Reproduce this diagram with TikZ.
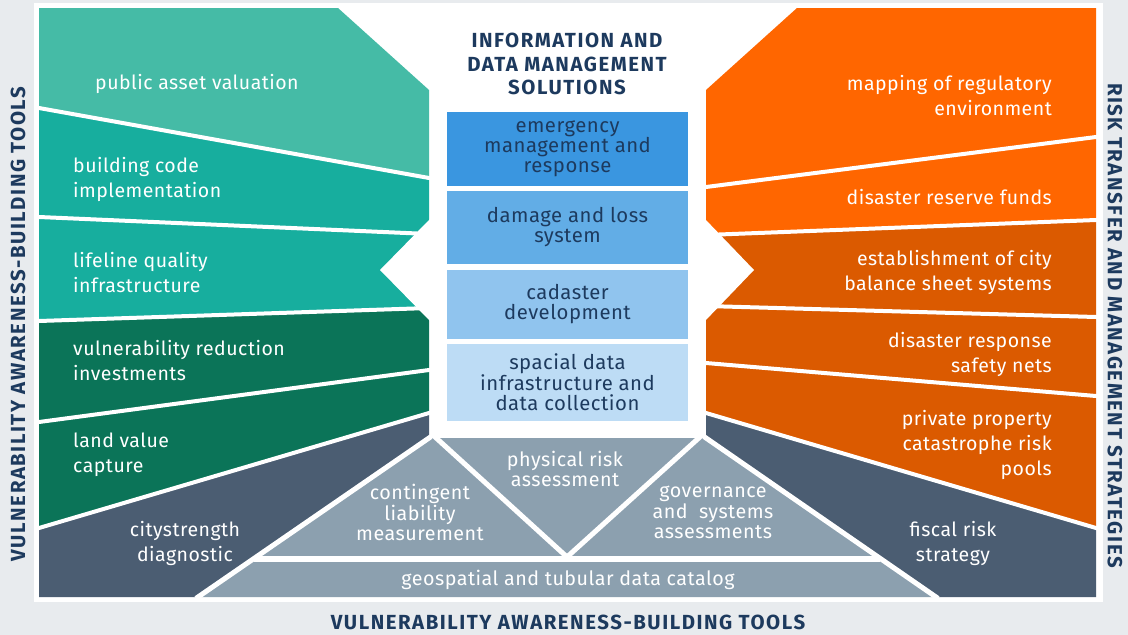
\documentclass[tikz,border=0pt]{standalone}
\usepackage{fontspec}
\setmainfont{Fira Sans}
\newfontfamily\bodyfont{Fira Sans}[LetterSpace=2.5]
\newfontfamily\titlefont{Fira Sans}[LetterSpace=7.5]
\definecolor{pagegray}{HTML}{E8EBEE}
\definecolor{tealpale}{HTML}{45BBA6}
\definecolor{tealmid}{HTML}{17AE9E}
\definecolor{greendark}{HTML}{0B7458}
\definecolor{slate}{HTML}{4B5D72}
\definecolor{steel}{HTML}{8CA0AF}
\definecolor{orangebright}{HTML}{FF6600}
\definecolor{orangedeep}{HTML}{DB5A00}
\definecolor{blueA}{HTML}{3A96E0}
\definecolor{blueB}{HTML}{62ADE6}
\definecolor{blueC}{HTML}{90C4EE}
\definecolor{blueD}{HTML}{BDDCF5}
\definecolor{navy}{HTML}{1D3A5E}
\tikzset{
  seam/.style={draw=white, line width=4pt, line cap=rect},
  bandtext/.style={text=white, font=\bodyfont\fontsize{19.5}{25}\selectfont, inner sep=0pt},
  lefttext/.style={bandtext, anchor=west, align=left},
  righttext/.style={bandtext, anchor=east, align=right},
  pyrtext/.style={text=white, font=\bodyfont\fontsize{19.7}{20.5}\selectfont, align=center, inner sep=0pt},
  infobox/.style={minimum width=241pt, inner sep=0pt, text=navy, align=center, font=\bodyfont\fontsize{20.3}{20}\selectfont},
  headline/.style={text=navy, font=\titlefont\bfseries\fontsize{20.4}{23.5}\selectfont, align=center, inner sep=0pt}
}
\begin{document}
\begin{tikzpicture}[x=1pt, y=-1pt]
	\useasboundingbox (0,0) rectangle (1128,635);
	\fill[pagegray] (0,0) rectangle (1128,635);
	\fill[white]    (34,3) rectangle (1103,602);
	% left bands
	\fill[tealpale]  (39,8) -- (338,8) -- (429,90) -- (429,178) -- (39,108) -- cycle;
	\fill[tealmid]   (39,108) -- (429,178) -- (429,234) -- (39,217) -- cycle;
	\fill[tealmid]   (39,217) -- (429,234) -- (429,308) -- (39,321) -- cycle;
	\fill[greendark] (39,321) -- (429,308) -- (429,370) -- (39,422) -- cycle;
	\fill[greendark] (39,422) -- (429,370) -- (429,413) -- (39,528) -- cycle;
	\fill[slate]     (39,528) -- (429,413) -- (429,438) -- (198,597) -- (39,597) -- cycle;
	% right bands
	\fill[orangebright] (797,8) -- (1096,8) -- (1096,137) -- (706,187) -- (706,90) -- cycle;
	\fill[orangebright] (706,187) -- (1096,137) -- (1096,220) -- (706,235) -- cycle;
	\fill[orangedeep]   (706,235) -- (1096,220) -- (1096,317) -- (706,306) -- cycle;
	\fill[orangedeep]   (706,306) -- (1096,317) -- (1096,396) -- (706,363) -- cycle;
	\fill[orangedeep]   (706,363) -- (1096,396) -- (1096,528) -- (706,413) -- cycle;
	\fill[slate]        (706,413) -- (1096,528) -- (1096,597) -- (936,597) -- (706,438) -- cycle;
	% pyramid
	\fill[steel] (429,438) -- (706,438) -- (936,597) -- (198,597) -- cycle;
	% arrow notches
	\fill[white] (430,219) -- (380,270) -- (430,321) -- cycle;
	\fill[white] (705,219) -- (754,270) -- (705,321) -- cycle;
	% seams
	\draw[seam] (39,108) -- (429,178);
	\draw[seam] (39,217) -- (429,234);
	\draw[seam] (39,321) -- (429,308);
	\draw[seam] (39,422) -- (429,370);
	\draw[seam] (39,528) -- (429,413);
	\draw[seam] (706,187) -- (1096,137);
	\draw[seam] (706,235) -- (1096,220);
	\draw[seam] (706,306) -- (1096,317);
	\draw[seam] (706,363) -- (1096,396);
	\draw[seam] (706,413) -- (1096,528);
	\draw[seam, line width=6pt, line cap=butt] (254,558.5) -- (880,558.5);
	\draw[seam, line width=5pt] (434,436) -- (567,557);
	\draw[seam, line width=5pt] (701,436) -- (567,557);
	\draw[seam, line width=5pt] (429,438) -- (198,597);
	\draw[seam, line width=5pt] (706,438) -- (936,597);
	% central boxes
	\node[infobox, fill=blueA, minimum height=74pt] (emergency) at (567.5,149)   {emergency\\management and\\response};
	\node[infobox, fill=blueB, minimum height=73pt] (damage)    at (567.5,227.5) {damage and loss\\system};
	\node[infobox, fill=blueC, minimum height=69pt] (cadaster)  at (567.5,304.5) {cadaster\\development};
	\node[infobox, fill=blueD, minimum height=77pt] (spacial)   at (567.5,382.5) {spacial data\\infrastructure and\\data collection};
	\node[headline] (infotitle) at (567,64) {INFORMATION AND\\DATA MANAGEMENT\\SOLUTIONS};
	% left texts
	\node[lefttext] (asset)     at (95,84)    {public asset valuation};
	\node[lefttext] (building)  at (73,179.5) {building code\\implementation};
	\node[lefttext] (lifeline)  at (73,272.5) {lifeline quality\\infrastructure};
	\node[lefttext] (reduction) at (73,360.5) {vulnerability reduction\\investments};
	\node[lefttext] (landvalue) at (73,455)   {land value\\capture};
	\node[bandtext, align=center] (citystrength) at (185,543) {citystrength\\diagnostic};
	% right texts
	\node[righttext] (mapping)   at (1052,96)    {mapping of regulatory\\environment};
	\node[righttext] (reserve)   at (1052,197)   {disaster reserve funds};
	\node[righttext] (balance)   at (1052,272)   {establishment of city\\balance sheet systems};
	\node[righttext] (safety)    at (1052,354.5) {disaster response\\safety nets};
	\node[righttext] (pools)     at (1052,444.5) {private property\\catastrophe risk\\pools};
	\node[bandtext, align=center] (fiscal) at (953,543) {fiscal risk\\strategy};
	% pyramid texts
	\node[pyrtext] (physical)    at (565,469)   {physical risk\\assessment};
	\node[pyrtext] (contingent)  at (420,512.5) {contingent\\liability\\measurement};
	\node[pyrtext] (governance)  at (713,512.5) {governance\\and\ \ systems\\assessments};
	\node[pyrtext] (geospatial)  at (568,580)   {geospatial and tubular data catalog};
	% side titles
	\node[headline, rotate=90]  (lefttitle)   at (18,324)    {VULNERABILITY AWARENESS-BUILDING TOOLS};
	\node[headline, rotate=-90] (righttitle)  at (1115,325.5) {RISK TRANSFER AND MANAGEMENT STRATEGIES};
	\node[headline]             (bottomtitle) at (568,622)   {VULNERABILITY AWARENESS-BUILDING TOOLS};
\end{tikzpicture}
\end{document}
